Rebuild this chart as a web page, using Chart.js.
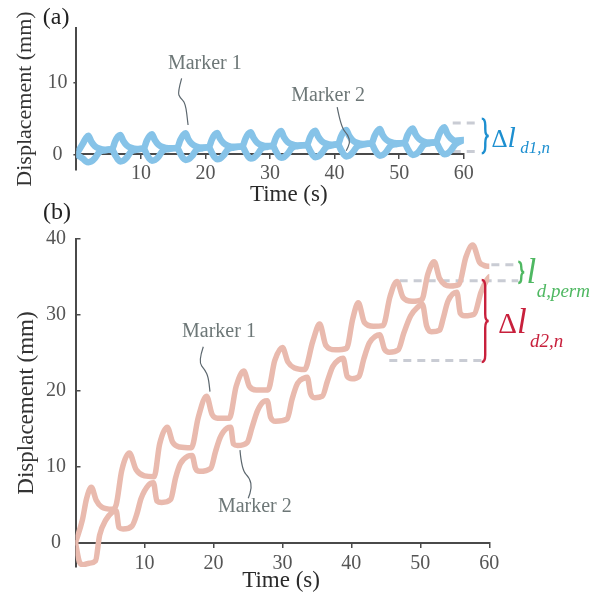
<!DOCTYPE html>
<html><head><meta charset="utf-8">
<script src="https://cdn.jsdelivr.net/npm/chart.js@4.4.1/dist/chart.umd.min.js"></script>
<style>html,body{margin:0;padding:0;background:#fff}#wrap{position:relative;width:607px;height:597px}canvas{position:absolute;left:0}</style>
</head><body>
<div id="wrap">
<canvas id="ca" width="607" height="210" style="top:0"></canvas>
<canvas id="cb" width="607" height="399" style="top:198px"></canvas>
</div>
<script>
// ---------- (a) two markers, cyclic loading ----------
const timeA = [0,1.0,1.5,1.85,2.3,2.85,3.55,4.45,
  5.5,6.0,6.45,6.8,7.25,7.8,8.5,9.4,
  10.4,10.9,11.35,11.7,12.15,12.7,13.4,14.3,
  15.6,16.1,16.55,16.9,17.35,17.9,18.6,19.5,
  20.5,21.0,21.45,21.8,22.25,22.8,23.5,24.4,
  25.7,26.2,26.65,27.0,27.45,28.0,28.7,29.6,
  30.4,30.9,31.35,31.7,32.15,32.7,33.4,34.3,
  35.7,36.2,36.65,37.0,37.45,38.0,38.7,39.6,
  40.5,41.0,41.45,41.8,42.25,42.8,43.5,44.4,
  45.7,46.2,46.65,47.0,47.45,48.0,48.7,49.6,
  50.8,51.3,51.75,52.1,52.55,53.1,53.8,54.7,
  55.7,56.2,56.65,57.0,57.45,58.0,58.7,60.0];
const marker1A = [0,1.5,2.3,2.6,1.8,1.15,0.8,0.65,
  0.7,1.8,2.5,2.7,1.9,1.25,0.9,0.75,
  0.8,1.9,2.6,2.8,2.0,1.35,1.0,0.85,
  0.9,2.0,2.7,2.95,2.1,1.45,1.1,0.95,
  1.0,2.1,2.8,3.0,2.2,1.55,1.2,1.05,
  1.1,2.2,2.9,3.1,2.3,1.65,1.3,1.15,
  1.2,2.3,3.0,3.25,2.4,1.75,1.4,1.25,
  1.3,2.4,3.1,3.3,2.5,1.85,1.5,1.35,
  1.4,2.5,3.2,3.4,2.6,1.95,1.6,1.45,
  1.5,2.6,3.3,3.55,2.7,2.05,1.7,1.55,
  1.6,2.7,3.4,3.6,2.8,2.15,1.8,1.65,
  1.7,2.8,3.55,3.8,2.9,2.25,1.9,2.0];
const marker2A = [0,-0.6,-1.0,-1.1,-1.0,-0.55,0.3,0.55,
  0.7,-0.1,-0.75,-1.0,-0.9,-0.45,0.4,0.65,
  0.8,0.0,-0.65,-0.9,-0.8,-0.35,0.5,0.75,
  0.9,0.1,-0.55,-0.8,-0.7,-0.25,0.6,0.85,
  1.0,0.2,-0.45,-0.7,-0.6,-0.15,0.7,0.95,
  1.1,0.3,-0.35,-0.6,-0.5,-0.05,0.8,1.05,
  1.2,0.4,-0.25,-0.5,-0.4,0.05,0.9,1.15,
  1.3,0.5,-0.15,-0.4,-0.3,0.15,1.0,1.25,
  1.4,0.6,-0.05,-0.3,-0.2,0.25,1.1,1.35,
  1.5,0.7,0.05,-0.2,-0.1,0.35,1.2,1.45,
  1.6,0.8,0.15,-0.1,0.0,0.45,1.3,1.55,
  1.7,0.9,0.25,0.0,0.1,0.55,1.4,2.0];

// ---------- (b) two markers, ratcheting ----------
const timeB1 = [0,1.0,1.6,2.3,3.0,3.8,5.3,5.9,6.7,7.8,8.8,10.0,11.4,12.2,13.3,14.1,15.1,16.8,17.8,19.0,
  19.8,20.6,22.3,23.3,24.4,25.2,26.2,27.9,28.9,30.0,30.8,31.8,33.2,34.4,35.4,36.3,37.7,39.3,40.2,41.0,
  41.9,43.2,44.6,45.6,46.6,47.5,48.8,50.2,51.1,52.0,52.8,54.3,55.6,56.6,57.6,58.6,59.3,60.0];
const marker1B = [0,3.0,5.8,7.3,5.6,4.7,4.4,5.0,9.5,11.8,9.6,8.8,8.7,13.0,15.2,13.2,12.6,12.5,16.5,19.3,
  16.9,16.4,16.4,20.6,22.6,20.6,20.1,20.1,24.0,25.7,23.8,23.0,22.8,26.5,28.8,26.0,25.4,25.6,29.5,31.6,
  29.0,28.5,28.6,32.4,34.4,32.3,31.8,32.0,35.4,37.0,34.8,33.8,34.0,37.6,39.2,36.9,36.5,36.4];
const timeB2 = [0,0.6,1.1,2.0,2.9,3.5,4.4,5.3,5.9,6.3,6.9,8.2,8.9,9.5,10.6,11.3,11.8,12.5,13.8,14.5,
  15.2,16.3,16.9,17.4,18.0,19.6,20.3,21.0,22.0,22.5,22.9,23.5,24.9,25.6,26.4,27.3,27.8,28.3,29.0,30.7,
  31.4,32.2,33.2,33.6,34.1,34.7,35.8,36.5,37.3,38.2,38.8,39.4,40.1,41.1,41.8,42.6,43.5,44.1,44.8,45.5,
  46.8,47.6,48.6,49.6,50.3,50.9,51.6,52.8,53.3,54.0,55.3,55.8,56.4,57.8,58.8,59.5,60.0];
const marker2B = [0,-2.6,-2.9,-2.7,-2.4,1.0,3.0,4.0,4.2,2.0,1.8,2.2,3.8,5.8,7.6,7.9,5.5,5.3,5.7,8.5,
  10.4,11.4,11.5,9.8,9.4,9.8,12.0,13.9,15.1,15.2,13.0,12.8,13.2,15.2,17.4,18.6,18.7,16.5,16.0,16.3,
  18.9,21.0,21.7,21.8,19.6,19.1,19.3,21.2,23.2,24.1,24.3,21.9,21.6,21.9,24.2,26.3,27.2,27.4,25.5,25.1,
  25.4,27.6,29.9,31.0,31.4,28.6,27.8,28.0,29.5,31.8,33.0,30.2,29.9,30.1,33.0,34.4,35.0];

// tick labels
const xTicks = [0,10,20,30,40,50,60];
const yTicksA = [0,10];
const yTicksB = [0,10,20,30,40];

// reference (dashed) levels
const refA_level = [4.4, 0.4];
const refA_from  = [58.3, 58.3];
const refA_to    = [62.5, 62.5];
const refB_level = [36.6, 34.5, 24.0];
const refB_from  = [60.3, 47.0, 45.5];
const refB_to    = [64.2, 64.2, 58.9];

const FONT = "'Liberation Serif','Times New Roman',serif";
Chart.defaults.font.family = FONT;
const AX = '#4a4a4a', TICK = '#555555';
const BLUE = '#86c3e8', SALMON = '#e9baae', DASH = '#c9ccd4';
const LBL = '#6d7777', LEAD = '#5c676e';

const pts = (ts, vs) => ts.map((t, i) => ({x: t, y: vs[i]}));

function curve(data, color, w) {
  return {data, borderColor: color, borderWidth: w, pointRadius: 0, fill: false,
    cubicInterpolationMode: 'monotone', borderCapStyle: 'round', borderJoinStyle: 'round', order: 1};
}
function refs(levels, from, to) {
  return levels.map((lv, i) => ({data: [{x: from[i], y: lv}, {x: to[i], y: lv}],
    borderColor: DASH, borderWidth: 3, borderDash: [8, 6], pointRadius: 0, clip: false, order: 2}));
}

function brace(ctx, x, y1, y2, w) {
  const ym = (y1 + y2) / 2, r = Math.min(w, (ym - y1) / 2);
  ctx.beginPath();
  ctx.moveTo(x, y1);
  ctx.quadraticCurveTo(x + w / 2, y1, x + w / 2, y1 + r);
  ctx.lineTo(x + w / 2, ym - r);
  ctx.quadraticCurveTo(x + w / 2, ym, x + w, ym);
  ctx.quadraticCurveTo(x + w / 2, ym, x + w / 2, ym + r);
  ctx.lineTo(x + w / 2, y2 - r);
  ctx.quadraticCurveTo(x + w / 2, y2, x, y2);
  ctx.stroke();
}

function annotPlugin(spec) {
  return {
    id: 'annot',
    afterDatasetsDraw(chart) {
      const ctx = chart.ctx, xs = chart.scales.x, ys = chart.scales.y;
      const X = v => xs.getPixelForValue(v), Y = v => ys.getPixelForValue(v);
      ctx.save();
      spec.leaders.forEach(L => {
        const p = L.t.map((t, i) => [X(t), Y(L.v[i])]);
        ctx.beginPath(); ctx.strokeStyle = LEAD; ctx.lineWidth = 1.2;
        ctx.moveTo(p[0][0], p[0][1]);
        for (let i = 1; i < p.length - 1; i++) {
          ctx.quadraticCurveTo(p[i][0], p[i][1], (p[i][0] + p[i + 1][0]) / 2, (p[i][1] + p[i + 1][1]) / 2);
        }
        ctx.lineTo(p[p.length - 1][0], p[p.length - 1][1]);
        ctx.stroke();
      });
      spec.braces.forEach(B => {
        ctx.strokeStyle = B.color; ctx.lineWidth = 2.4;
        brace(ctx, X(B.t), Y(B.v1), Y(B.v2), B.w);
      });
      spec.texts.forEach(T => {
        ctx.textAlign = T.align || 'left';
        ctx.textBaseline = 'alphabetic';
        let x = X(T.t);
        const y = Y(T.v);
        T.parts.forEach(pt => {
          ctx.font = pt.font; ctx.fillStyle = pt.color;
          ctx.fillText(pt.text, x, y);
          x += ctx.measureText(pt.text).width;
        });
      });
      ctx.restore();
    }
  };
}

function axes(ymin, ymax, yTicks, yW, yTickLen, yPad, xPad, titleSize, titlePad) {
  return {
    x: {type: 'linear', min: 0, max: 60, position: {y: 0},
      afterBuildTicks: s => { s.ticks = xTicks.map(v => ({value: v})); },
      grid: {drawOnChartArea: false, drawTicks: true, tickLength: 4, color: AX, lineWidth: 1.5},
      border: {color: AX, width: 2},
      ticks: {font: {size: 20}, color: TICK, padding: xPad, maxRotation: 0, autoSkip: false,
        callback: v => v === 0 ? '' : String(v)}},
    y: {type: 'linear', min: ymin, max: ymax,
      afterFit: s => { s.width = yW; },
      afterBuildTicks: s => { s.ticks = yTicks.map(v => ({value: v})); },
      grid: {drawOnChartArea: false, drawTicks: true, tickLength: yTickLen, color: AX, lineWidth: 1.5},
      border: {color: AX, width: 2},
      ticks: {font: {size: 20}, color: TICK, padding: yPad, crossAlign: 'center'},
      title: {display: true, text: 'Displacement (mm)', font: {size: titleSize}, color: '#333',
        padding: {top: titlePad, bottom: 0}}}
  };
}

const serif = (s, it) => (it ? 'italic ' : '') + s + 'px ' + FONT;

// ---- chart (a) ----
const specA = {
  leaders: [
    {t: [16.3, 15.7, 16.05, 16.9, 17.3], v: [10.65, 8.7, 7.9, 7.2, 4.1]},
    {t: [40.4, 41.0, 42.1, 42.4, 41.8], v: [6.6, 3.8, 2.7, 1.6, 0.5]}
  ],
  braces: [{t: 62.8, v1: 5.0, v2: 0.15, w: 7, color: '#1d8fd0'}],
  texts: [
    {t: -5.2, v: 18.2, parts: [{text: '(a)', font: serif(24), color: '#222'}]},
    {t: 19.9, v: 12.0, align: 'center', parts: [{text: 'Marker 1', font: serif(20), color: LBL}]},
    {t: 39.0, v: 7.4, align: 'center', parts: [{text: 'Marker 2', font: serif(20), color: LBL}]},
    {t: 32.9, v: -6.6, align: 'center', parts: [{text: 'Time (s)', font: serif(23), color: '#2a2a2a'}]},
    {t: 64.3, v: 1.07, parts: [{text: 'Δ', font: serif(25), color: '#1d8fd0'}, {text: 'l', font: serif(30, true), color: '#1d8fd0'}]},
    {t: 68.75, v: 0.14, parts: [{text: 'd1,n', font: serif(17, true), color: '#1d8fd0'}]}
  ]
};
new Chart(document.getElementById('ca'), {
  type: 'line',
  data: {datasets: [
    curve(pts(timeA, marker1A), BLUE, 6.5),
    curve(pts(timeA, marker2A), BLUE, 6.5),
    ...refs(refA_level, refA_from, refA_to)
  ]},
  options: {
    responsive: false, animation: false, devicePixelRatio: 1,
    layout: {padding: {left: 0, top: 28, right: 143.3, bottom: 40}},
    plugins: {legend: {display: false}, tooltip: {enabled: false}},
    scales: axes(-2.2, 17.7, yTicksA, 76.4, 3, 6, 3, 22, 12)
  },
  plugins: [annotPlugin(specA)]
});

// ---- chart (b) ----
const specB = {
  leaders: [
    {t: [18.53, 17.8, 18.78, 19.25, 19.5], v: [25.8, 23.84, 22.74, 21.86, 19.9]},
    {t: [23.85, 24.1, 25.3, 25.55, 25.05], v: [12.2, 9.6, 8.48, 7.16, 5.85]}
  ],
  braces: [
    {t: 64.2, v1: 37.0, v2: 34.2, w: 6, color: '#4fb862'},
    {t: 58.9, v1: 34.6, v2: 23.8, w: 7, color: '#c8203c'}
  ],
  texts: [
    {t: -4.7, v: 42.6, parts: [{text: '(b)', font: serif(24), color: '#222'}]},
    {t: 20.8, v: 27.05, align: 'center', parts: [{text: 'Marker 1', font: serif(20), color: LBL}]},
    {t: 26.0, v: 4.08, align: 'center', parts: [{text: 'Marker 2', font: serif(20), color: LBL}]},
    {t: 29.8, v: -5.8, align: 'center', parts: [{text: 'Time (s)', font: serif(23), color: '#2a2a2a'}]},
    {t: 65.4, v: 34.16, parts: [{text: 'l', font: serif(35, true), color: '#4fb862'}]},
    {t: 66.87, v: 32.4, parts: [{text: 'd,perm', font: serif(19, true), color: '#4fb862'}]},
    {t: 61.3, v: 27.58, parts: [{text: 'Δ', font: serif(29), color: '#c8203c'}, {text: 'l', font: serif(35, true), color: '#c8203c'}]},
    {t: 65.9, v: 25.8, parts: [{text: 'd2,n', font: serif(19, true), color: '#c8203c'}]}
  ]
};
new Chart(document.getElementById('cb'), {
  type: 'line',
  data: {datasets: [
    curve(pts(timeB1, marker1B), SALMON, 5.5),
    curve(pts(timeB2, marker2B), SALMON, 5.5),
    ...refs(refB_level, refB_from, refB_to)
  ]},
  options: {
    responsive: false, animation: false, devicePixelRatio: 1,
    layout: {padding: {left: 0, top: 41, right: 117.7, bottom: 30}},
    plugins: {legend: {display: false}, tooltip: {enabled: false}},
    scales: axes(-3.2, 40, yTicksB, 75.5, -5, 14.5, 5, 23, 13)
  },
  plugins: [annotPlugin(specB)]
});
</script>
</body></html>
